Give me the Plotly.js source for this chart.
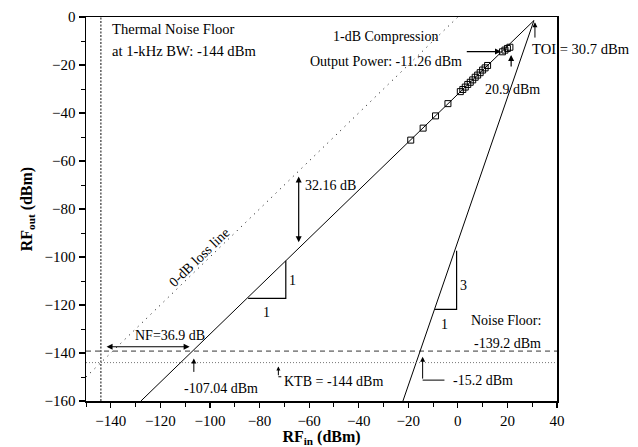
<!DOCTYPE html>
<html>
<head>
<meta charset="utf-8">
<script src="https://cdn.plot.ly/plotly-3.0.1.min.js"></script>
<style>html,body{margin:0;padding:0;background:#fff;}#chart{width:638px;height:447px;}</style>
</head>
<body>
<div id="chart"></div>
<script>
// Measured output power vs input power (open squares)
const pinMeasured  = [-19, -14, -9, -4, 1, 2, 3, 4, 5, 6, 7, 8, 9, 10, 11, 12, 18, 19, 20, 21];
const poutMeasured = [-51.3, -46.3, -41.2, -36.1, -31.1, -30.2, -29.2, -28.1, -27.2, -26.2, -25.1, -24.2, -23.2, -22.1, -21.2, -20.2, -14.5, -13.8, -13.1, -12.6];

// Fundamental (slope 1) and third-order (slope 3) extrapolated lines
const fundX = [-127.84, 30.7];
const fundY = [-160, -1.46];
const im3X  = [-22.15, 30.7];
const im3Y  = [-160, -1.46];

// 0-dB loss line
const lossX = [-150, 0];
const lossY = [-150, 0];

// Reference levels
const noiseFloor = -139.2;   // dBm
const ktb = -144;            // dBm
const thermalFloorX = -144;  // dBm

// Axis ticks
const xTicks = [-140, -120, -100, -80, -60, -40, -20, 0, 20, 40];
const yTicks = [0, -20, -40, -60, -80, -100, -120, -140, -160];

const FONT = '"Liberation Serif"';

const traces = [
  {x: lossX, y: lossY, mode: 'lines', line: {color: '#000', width: 1, dash: '1px,5px'}, hoverinfo: 'skip'},
  {x: fundX, y: fundY, mode: 'lines', line: {color: '#000', width: 1}, hoverinfo: 'skip'},
  {x: im3X, y: im3Y, mode: 'lines', line: {color: '#000', width: 1}, hoverinfo: 'skip'},
  {x: [-150, 40], y: [noiseFloor, noiseFloor], mode: 'lines', line: {color: '#000', width: 0.8, dash: '5px,4px'}, hoverinfo: 'skip'},
  {x: [-150, 40], y: [ktb, ktb], mode: 'lines', line: {color: '#777', width: 1, dash: '1px,2px'}, hoverinfo: 'skip'},
  {x: [thermalFloorX, thermalFloorX], y: [-160, 0], mode: 'lines', line: {color: '#444', width: 1.3, dash: '2px,1.5px'}, hoverinfo: 'skip'},
  {x: pinMeasured, y: poutMeasured, mode: 'markers', marker: {symbol: 'square-open', size: 6, color: '#000', line: {width: 1}}, hoverinfo: 'skip'}
];

function txt(x, y, text, opts) {
  return Object.assign({x: x, y: y, xref: 'x', yref: 'y', text: text, showarrow: false,
    font: {family: FONT, size: 14, color: '#000'}}, opts || {});
}
function arr(x, y, ax, ay, opts) {
  return Object.assign({x: x, y: y, ax: ax, ay: ay, xref: 'x', yref: 'y', axref: 'x', ayref: 'y',
    text: '', showarrow: true, arrowhead: 2, arrowsize: 1, arrowwidth: 1.2, arrowcolor: '#000'}, opts || {});
}
const BIG = {font: {family: FONT, size: 14.6, color: '#000'}};

const annotations = [
  txt(-140.3, -5, 'Thermal Noise Floor', Object.assign({xanchor: 'left'}, BIG)),
  txt(-140.3, -14.2, 'at 1-kHz BW: -144 dBm', Object.assign({xanchor: 'left'}, BIG)),
  txt(-29, -8.3, '1-dB Compression'),
  txt(-29, -18.7, 'Output Power: -11.26 dBm'),
  arr(17.4, -14.4, 3.0, -14.4),
  txt(22, -30, '20.9 dBm'),
  arr(21.5, -15.8, 21.5, -21.2),
  txt(29.0, -13.5, 'TOI = 30.7 dBm', Object.assign({xanchor: 'left'}, BIG)),
  arr(31.1, -2.2, 31.1, -9.2, {arrowwidth: 1}),
  txt(-62.5, -70, '32.16 dB', {xanchor: 'left'}),
  arr(-64.2, -66.5, -64.2, -94.5, {arrowside: 'end+start'}),
  txt(-104.4, -100, '0-dB loss line', {textangle: -44}),
  txt(-66.5, -109.6, '1'),
  txt(-77, -123, '1'),
  txt(2.1, -112, '3'),
  txt(-5.2, -128.3, '1'),
  txt(19.4, -126.5, 'Noise Floor:'),
  txt(20.2, -136, '-139.2 dBm'),
  txt(-2.8, -151.3, '-15.2 dBm', {xanchor: 'left'}),
  arr(-14.2, -141.6, -14.2, -151.3, {arrowwidth: 1}),
  txt(-71, -152, 'KTB = -144 dBm', {xanchor: 'left'}),
  arr(-72.4, -145.6, -72.4, -149.9, {arrowwidth: 1, arrowsize: 0.8}),
  txt(-116.3, -132.5, 'NF=36.9 dB'),
  arr(-108.2, -137.4, -142.3, -137.4, {arrowside: 'end+start'}),
  txt(-95.5, -154.7, '-107.04 dBm'),
  arr(-106.5, -142.3, -106.5, -148.5, {arrowwidth: 1})
];

const shapes = [
  // slope-1 triangle
  {type: 'path', xref: 'x', yref: 'y', path: 'M -84.6,-117.2 L -69.4,-117.2 L -69.4,-101.6', line: {color: '#000', width: 1.2}},
  // slope-3 triangle
  {type: 'path', xref: 'x', yref: 'y', path: 'M -9.2,-121.8 L -0.5,-121.8 L -0.5,-97.4', line: {color: '#000', width: 1.2}},
  // elbow of -15.2 dBm arrow
  {type: 'line', xref: 'x', yref: 'y', x0: -14.2, x1: -5.4, y0: -151.3, y1: -151.3, line: {color: '#000', width: 1}},
  // elbow of KTB arrow
  {type: 'line', xref: 'x', yref: 'y', x0: -72.4, x1: -71.2, y0: -149.9, y1: -149.9, line: {color: '#000', width: 1}}
];

const layout = {
  width: 638, height: 447,
  margin: {l: 86, r: 81, t: 17, b: 46, pad: 0},
  paper_bgcolor: '#fff', plot_bgcolor: '#fff',
  showlegend: false,
  font: {family: FONT, size: 14, color: '#000'},
  xaxis: {
    range: [-150, 40], tickvals: xTicks, ticks: 'outside', ticklen: 5, tickwidth: 1.2, tickcolor: '#000',
    minor: {dtick: 10, tick0: 0, ticks: 'outside', ticklen: 4, tickwidth: 1, tickcolor: '#000'},
    showgrid: false, zeroline: false, showline: true, linecolor: '#000', linewidth: 1.5, mirror: true,
    tickfont: {family: FONT, size: 15, color: '#000'},
    title: {text: '<b>RF<sub>in</sub> (dBm)</b>', font: {family: FONT, size: 16, color: '#000'}, standoff: 2}
  },
  yaxis: {
    range: [-160, 0], tickvals: yTicks, ticks: 'outside', ticklen: 6, tickwidth: 1.2, tickcolor: '#000',
    minor: {dtick: 10, tick0: 0, ticks: 'outside', ticklen: 4, tickwidth: 1, tickcolor: '#000'},
    showgrid: false, zeroline: false, showline: true, linecolor: '#000', linewidth: 1.5, mirror: true,
    tickfont: {family: FONT, size: 15, color: '#000'},
    title: {text: '<b>RF<sub>out</sub> (dBm)</b>', font: {family: FONT, size: 16, color: '#000'}, standoff: 8}
  },
  annotations: annotations,
  shapes: shapes
};

Plotly.newPlot('chart', traces, layout, {displayModeBar: false, staticPlot: true});
</script>
</body>
</html>
